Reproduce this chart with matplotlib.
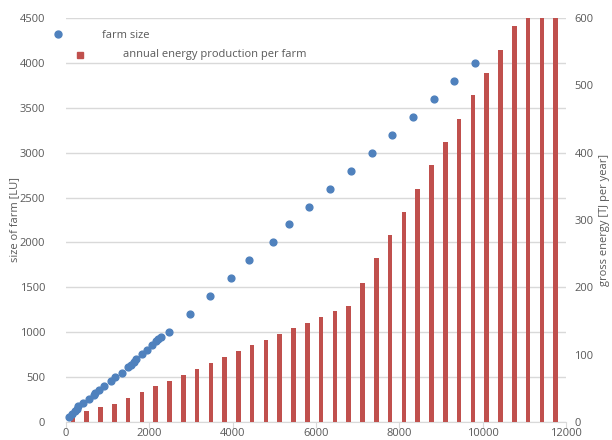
import numpy as np
import matplotlib
matplotlib.use("Agg")
import matplotlib.pyplot as plt
from matplotlib.lines import Line2D

plt.rcParams['font.family'] = ['Open Sans', 'DejaVu Sans']

# farm size [LU] against x
farm_x = [80, 152, 208, 256, 296, 400, 560, 664, 704, 784, 920, 1072, 1168, 1336,
          1488, 1552, 1624, 1688, 1832, 1952, 2072, 2152, 2200, 2272, 2464,
          2976, 3463, 3953, 4380, 4961, 5352, 5839, 6329, 6840, 7337, 7824,
          8335, 8820, 9317, 9809]
farm_size = [55, 90, 120, 150, 180, 210, 260, 300, 320, 360, 400, 460, 500, 550,
             610, 640, 670, 700, 760, 800, 860, 900, 920, 950, 1000,
             1200, 1400, 1600, 1800, 2000, 2200, 2400, 2600, 2800, 3000, 3200,
             3400, 3600, 3800, 4000]

# annual energy production per farm [TJ per year]
energy_x = [165 + 331 * k for k in range(36)]
energy = [7, 16, 22, 26, 35, 44, 53, 61, 70, 79, 87, 96, 105, 114, 122, 131,
          140, 147, 156, 165, 173, 207, 243, 278, 312, 346, 381, 416, 450, 485,
          519, 553, 588, 600, 600, 600]

blue = '#4F81BD'
red = '#C0504D'
grey_txt = '#595959'
grid_c = '#D9D9D9'
fs = 8

fig = plt.figure(figsize=(6.12, 4.4), dpi=100)
pos = [66 / 612, 18 / 440, 500 / 612, 404 / 440]

ax = fig.add_axes(pos)
ax2 = ax.twinx()
ax3 = fig.add_axes(pos, sharex=ax, sharey=ax)

ax.set_xlim(0, 12000)
ax.set_ylim(0, 4500)
ax.set_yticks(np.arange(0, 4501, 500))
ax.set_xticks(np.arange(0, 12001, 2000))
ax.grid(axis='y', color=grid_c, linewidth=1)
ax.set_axisbelow(True)
for s in ['top', 'left', 'right']:
    ax.spines[s].set_visible(False)
ax.spines['bottom'].set_color(grid_c)
ax.tick_params(axis='y', length=0, labelcolor=grey_txt, labelsize=fs, pad=15)
ax.tick_params(axis='x', length=4, color=grid_c, labelcolor=grey_txt, labelsize=fs, pad=0.5)
ax.set_ylabel('size of farm [LU]', color=grey_txt, fontsize=fs, labelpad=0)

ax2.bar(energy_x, energy, width=110, color=red, zorder=2)
ax2.set_ylim(0, 600)
ax2.set_yticks(np.arange(0, 601, 100))
for s in ax2.spines.values():
    s.set_visible(False)
ax2.tick_params(axis='y', length=0, labelcolor=grey_txt, labelsize=fs, pad=6)
ax2.set_ylabel('gross energy [TJ per year]', color=grey_txt, fontsize=fs, labelpad=4)
ax2.patch.set_visible(False)

ax3.scatter(farm_x, farm_size, s=24, color=blue, zorder=3, clip_on=False)
ax3.axis('off')
ax3.patch.set_visible(False)
ax3.set_zorder(ax2.get_zorder() + 1)

# legend (Excel style, loosely placed)
fig.add_artist(Line2D([58 / 612], [1 - 34 / 440], marker='o', color=blue,
                      markersize=5, linestyle='none', transform=fig.transFigure))
fig.text(102 / 612, 1 - 36 / 440, 'farm size', color=grey_txt, fontsize=fs, va='center')
fig.add_artist(Line2D([80 / 612], [1 - 55 / 440], marker='s', color=red,
                      markersize=4.5, linestyle='none', transform=fig.transFigure))
fig.text(123 / 612, 1 - 55 / 440, 'annual energy production per farm', color=grey_txt,
         fontsize=fs, va='center')

fig.savefig('out.png', dpi=100)
